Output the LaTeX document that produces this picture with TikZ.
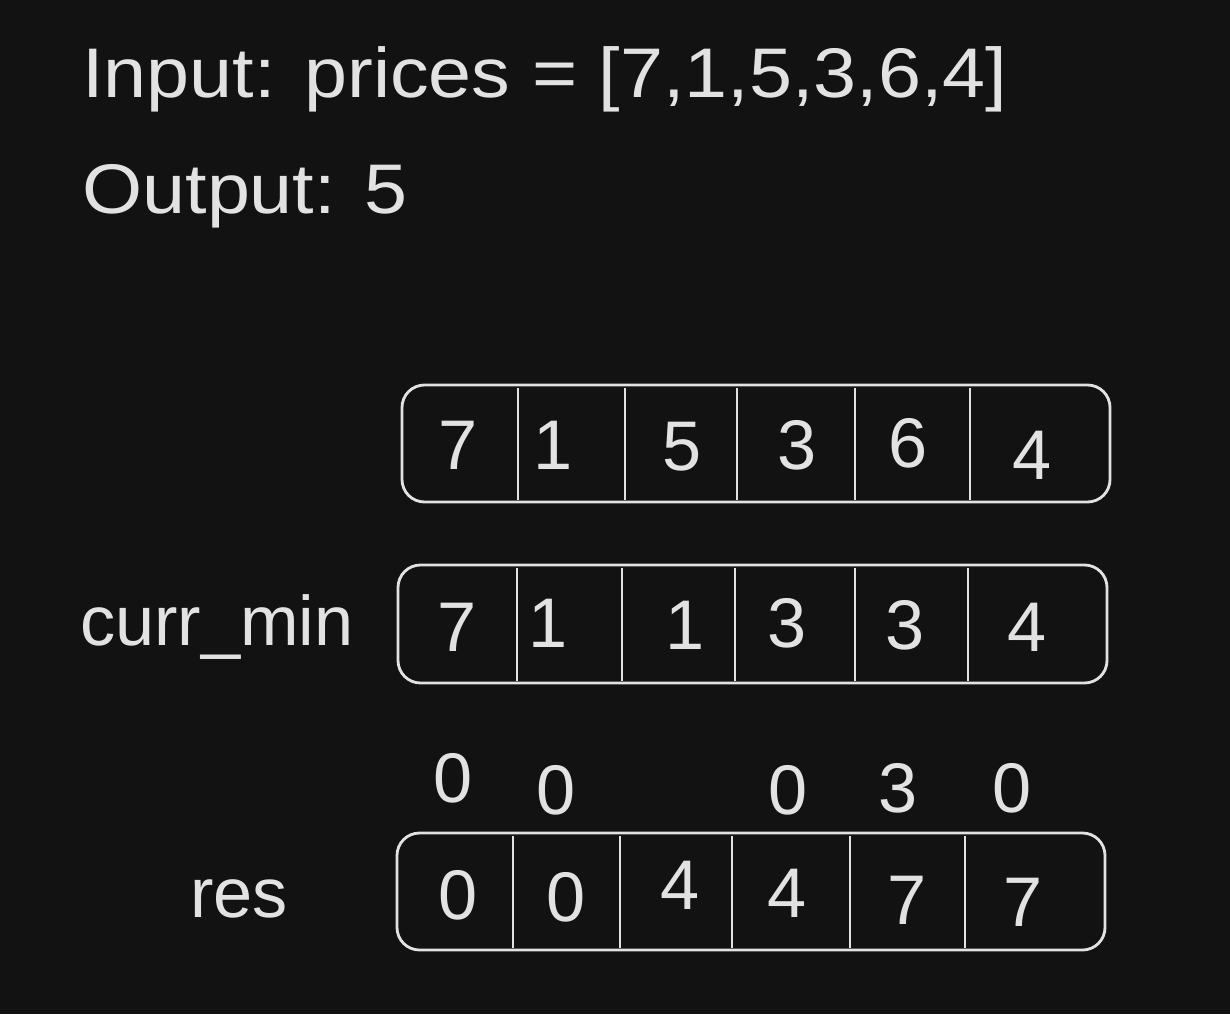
\documentclass[tikz,border=0pt]{standalone}
\usepackage{fontspec}
\setmainfont{Liberation Sans}
\usetikzlibrary{positioning}
\definecolor{bgdark}{HTML}{121212}
\definecolor{chalk}{HTML}{E2E2E2}
\tikzset{
  txt/.style={text=chalk, font=\fontsize{40}{48}\selectfont, inner sep=0pt},
  head/.style={txt, anchor=base west, xscale=1.1, transform shape},
  arrbox/.style={draw=chalk, line width=1.6pt, rounded corners=0.45cm},
  divider/.style={draw=chalk, line width=1.6pt},
}
\begin{document}
\begin{tikzpicture}[x=0.02cm,y=-0.02cm]
    \fill[bgdark] (0,0) rectangle (1230,1014);
    \useasboundingbox (0,0) rectangle (1230,1014);
    % heading
    \node[head] (input) at (82,97) {Input: prices = [7,1,5,3,6,4]};
    \node[head] (output) at (82,213) {Output: 5};
    % prices
    \draw[arrbox] (402,385) rectangle (1110,502);
    \draw[divider] (518,388) -- (518,500);
    \draw[divider] (625,388) -- (625,500);
    \draw[divider] (737,388) -- (737,500);
    \draw[divider] (855,388) -- (855,500);
    \draw[divider] (970,388) -- (970,500);
    \node[txt] (price1) at (458,445) {7};
    \node[txt] (price2) at (553,445) {1};
    \node[txt] (price3) at (682,447) {5};
    \node[txt] (price4) at (797,445) {3};
    \node[txt] (price5) at (908,443) {6};
    \node[txt] (price6) at (1032,455) {4};
    % curr_min
    \node[txt, anchor=base west] (minlabel) at (80,645) {curr\_min};
    \draw[arrbox] (398,565) rectangle (1107,683);
    \draw[divider] (517,568) -- (517,681);
    \draw[divider] (622,568) -- (622,681);
    \draw[divider] (735,568) -- (735,681);
    \draw[divider] (855,568) -- (855,681);
    \draw[divider] (968,568) -- (968,681);
    \node[txt] (min1) at (457,627) {7};
    \node[txt] (min2) at (548,623) {1};
    \node[txt] (min3) at (685,625) {1};
    \node[txt] (min4) at (787,623) {3};
    \node[txt] (min5) at (905,625) {3};
    \node[txt] (min6) at (1027,627) {4};
    % differences
    \node[txt] (diff1) at (453,778) {0};
    \node[txt] (diff2) at (556,790) {0};
    \node[txt] (diff3) at (788,790) {0};
    \node[txt] (diff4) at (898,788) {3};
    \node[txt] (diff5) at (1012,788) {0};
    % res
    \node[txt, anchor=base west] (reslabel) at (190,917) {res};
    \draw[arrbox] (397,833) rectangle (1105,950);
    \draw[divider] (513,836) -- (513,948);
    \draw[divider] (620,836) -- (620,948);
    \draw[divider] (732,836) -- (732,948);
    \draw[divider] (850,836) -- (850,948);
    \draw[divider] (965,836) -- (965,948);
    \node[txt] (res1) at (458,895) {0};
    \node[txt] (res2) at (566,897) {0};
    \node[txt] (res3) at (680,885) {4};
    \node[txt] (res4) at (787,893) {4};
    \node[txt] (res5) at (907,900) {7};
    \node[txt] (res6) at (1023,902) {7};
\end{tikzpicture}
\end{document}
